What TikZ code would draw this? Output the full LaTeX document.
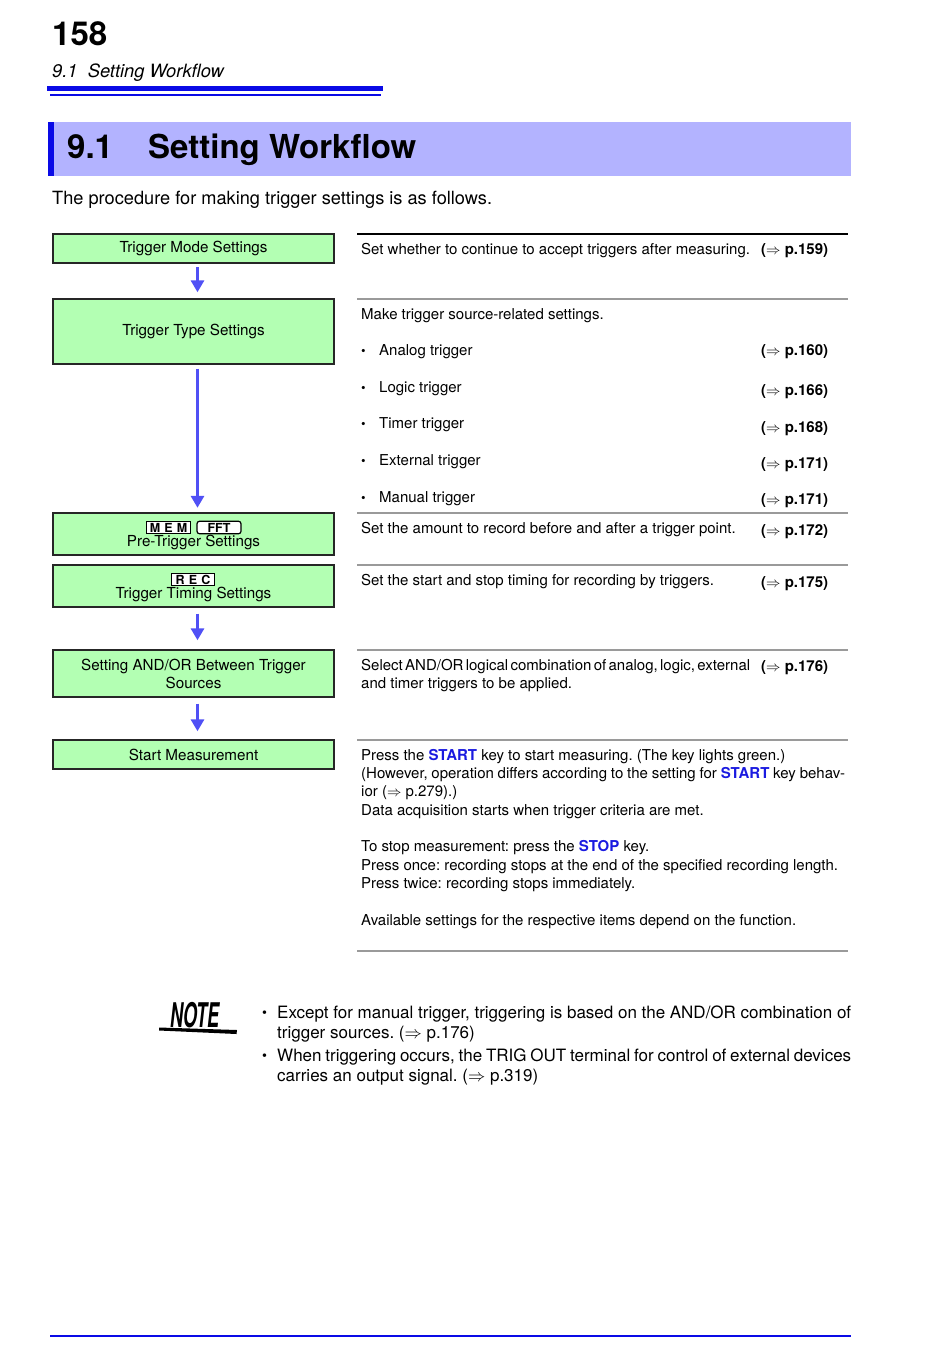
\documentclass[tikz,border=0pt]{standalone}
\usepackage{fontspec}
\setmainfont{TeX Gyre Heros}
\usetikzlibrary{arrows.meta, positioning}
\definecolor{HDRblue}{HTML}{0A0AE6}
\definecolor{BANDlav}{HTML}{B3B3FF}
\definecolor{BOXgreen}{HTML}{B3FFB3}
\definecolor{ARRblue}{HTML}{5050F5}
\definecolor{KEYblue}{HTML}{1A1AE0}
\definecolor{RULEgray}{HTML}{9A9A9A}
\newcommand{\keyname}[1]{\textcolor{KEYblue}{\bfseries #1}}
\frenchspacing

\begin{document}
\begin{tikzpicture}[x=1pt, y=1pt,
   stepbox/.style={draw=black!85, line width=1.4pt, fill=BOXgreen, minimum width=281pt,
      inner sep=0pt, align=center, font=\fontsize{15.2}{18}\selectfont},
   boxtxt/.style={anchor=base, inner sep=0pt, font=\fontsize{15.2}{18}\selectfont},
   tagbox/.style={draw=black, line width=1.2pt, fill=white, minimum width=44pt, minimum height=12.5pt,
      inner sep=0pt, font=\fontsize{12.5}{12.5}\selectfont\bfseries},
   flowarrow/.style={ARRblue, line width=3pt, -{Triangle[width=13pt, length=12pt]}},
   bodytxt/.style={anchor=base west, inner sep=0pt, font=\fontsize{15}{18}\selectfont},
   reftxt/.style={anchor=base west, inner sep=0pt, font=\fontsize{15}{18}\selectfont\bfseries},
   rowrule/.style={RULEgray, line width=1.4pt}
]
   \useasboundingbox (0,0) rectangle (950,-1360);
   % Page number and running head
   \node[anchor=base west, inner sep=0pt, font=\fontsize{33}{36}\selectfont\bfseries] (pagenum) at (52,-45) {158};
   \node[anchor=base west, inner sep=0pt, font=\fontsize{18.3}{20}\selectfont\itshape] (runhead) at (52,-77) {9.1\ \ Setting Workflow};
   \draw[HDRblue, line width=5pt] (47,-88) -- (383,-88);
   \draw[HDRblue, line width=2pt] (50,-95) -- (381,-95);
   % Section band
   \fill[BANDlav] (48,-122) rectangle (851,-176);
   \fill[HDRblue] (48,-122) rectangle (54,-176);
   \node[anchor=base west, inner sep=0pt, font=\fontsize{33}{35}\selectfont\bfseries] (secnum) at (67,-158) {9.1};
   \node[anchor=base west, inner sep=0pt, font=\fontsize{33}{35}\selectfont\bfseries] (sectitle) at (148,-158) {Setting Workflow};
   \node[anchor=base west, inner sep=0pt, font=\fontsize{18.2}{20}\selectfont] (intro) at (52,-204) {The procedure for making trigger settings is as follows.};
   % Flow boxes
   \node[stepbox, minimum height=29pt] (modebox) at (193.5,-248.5) {Trigger Mode Settings};
   \node[stepbox, minimum height=65pt] (typebox) at (193.5,-331.5) {Trigger Type Settings};
   \node[stepbox, minimum height=42pt] (prebox) at (193.5,-534) {};
   \node[stepbox, minimum height=42pt] (timebox) at (193.5,-586) {};
   \node[stepbox, minimum height=47pt] (andbox) at (193.5,-673.5) {Setting AND/OR Between Trigger\\Sources};
   \node[stepbox, minimum height=29pt] (startbox) at (193.5,-754.5) {Start Measurement};
   % Mode tags inside the boxes
   \node[tagbox] (memtag) at (168.5,-527.5) {M\,\,E\,\,M};
   \node[tagbox, rounded corners=2.5pt] (ffttag) at (219,-527.5) {FFT};
   \node[tagbox, minimum width=43pt] (rectag) at (193,-579.5) {R\,\,E\,\,C};
   \node[boxtxt] (pretxt) at (193.5,-546.5) {Pre-Trigger Settings};
   \node[boxtxt] (timetxt) at (193.5,-598) {Trigger Timing Settings};
   % Arrows
   \draw[flowarrow, shorten <=3.5pt, shorten >=6pt] ([xshift=4pt]modebox.south) -- ([xshift=4pt]typebox.north);
   \draw[flowarrow, shorten <=4pt, shorten >=4.5pt] ([xshift=4pt]typebox.south) -- ([xshift=4pt]prebox.north);
   \draw[flowarrow, shorten <=6pt, shorten >=9pt] ([xshift=4pt]timebox.south) -- ([xshift=4pt]andbox.north);
   \draw[flowarrow, shorten <=6pt, shorten >=8pt] ([xshift=4pt]andbox.south) -- ([xshift=4pt]startbox.north);
   % Right column rules
   \draw[black, line width=1.2pt] (357,-234) -- (848,-234);
   \foreach \yr in {299,513,565,650,740,951}
      \draw[rowrule] (357,-\yr) -- (848,-\yr);
   % Right column texts
   \node[bodytxt] (modedesc) at (361,-254) {Set whether to continue to accept triggers after measuring.};
   \node[reftxt] (moderef) at (761,-254) {($\Rightarrow$ p.159)};
   \node[bodytxt] (typedesc) at (361,-319) {Make trigger source-related settings.};
   \foreach \lbl/\ib/\pg/\rb [count=\i] in {Analog trigger/355/160/355, Logic trigger/392/166/395,
         Timer trigger/428/168/432, External trigger/465/171/468, Manual trigger/502/171/504}{
      \node[bodytxt, font=\fontsize{13}{14}\selectfont] (srcdot\i) at (361,-\ib) {\textbullet};
      \node[bodytxt] (src\i) at (379,-\ib) {\lbl};
      \node[reftxt] (srcref\i) at (761,-\rb) {($\Rightarrow$ p.\pg)};
   }
   \node[bodytxt] (predesc) at (361,-533) {Set the amount to record before and after a trigger point.};
   \node[reftxt] (preref) at (761,-535) {($\Rightarrow$ p.172)};
   \node[bodytxt] (timedesc) at (361,-585) {Set the start and stop timing for recording by triggers.};
   \node[reftxt] (timeref) at (761,-587) {($\Rightarrow$ p.175)};
   % multi-line nodes: base = last line
   \node[bodytxt, align=left] (anddesc) at (361,-688) {{\spaceskip=2.3pt Select AND/OR logical combination of analog, logic, external}\\and timer triggers to be applied.};
   \node[reftxt] (andref) at (761,-671) {($\Rightarrow$ p.176)};
   \node[bodytxt, align=left, font=\fontsize{15}{18.3}\selectfont] (startdesc) at (361,-925) {%
      Press the \keyname{START} key to start measuring. (The key lights green.)\\
      \makebox[484pt][s]{(However, operation differs according to the setting for \keyname{START} key behav-}\\
      ior ($\Rightarrow$ p.279).)\\
      Data acquisition starts when trigger criteria are met.\\[18.3pt]
      To stop measurement: press the \keyname{STOP} key.\\
      Press once: recording stops at the end of the specified recording length.\\
      Press twice: recording stops immediately.\\[18.3pt]
      Available settings for the respective items depend on the function.};
   % NOTE
   \node[inner sep=0pt] (notelogo) at (195,-1015) {\scalebox{0.53}[1]{\fontsize{34}{34}\selectfont\bfseries\itshape NOTE}};
   \fill (159,-1027.5) -- (237,-1030) -- (236.5,-1034) -- (159,-1030.5) -- cycle;
   \node[anchor=base west, inner sep=0pt, font=\fontsize{14}{14}\selectfont] (notedot1) at (262,-1017) {\textbullet};
   \node[anchor=base west, inner sep=0pt, font=\fontsize{17}{20}\selectfont, align=left] (note1) at (277,-1038) {%
      \makebox[574pt][s]{Except for manual trigger, triggering is based on the AND/OR combination of}\\
      trigger sources. ($\Rightarrow$ p.176)};
   \node[anchor=base west, inner sep=0pt, font=\fontsize{14}{14}\selectfont] (notedot2) at (262,-1060) {\textbullet};
   \node[anchor=base west, inner sep=0pt, font=\fontsize{17}{20}\selectfont, align=left] (note2) at (277,-1081) {%
      \makebox[574pt][s]{When triggering occurs, the TRIG OUT terminal for control of external devices}\\
      carries an output signal. ($\Rightarrow$ p.319)};
   % Bottom rule
   \draw[HDRblue, line width=1.5pt] (50,-1336) -- (851,-1336);
\end{tikzpicture}
\end{document}
